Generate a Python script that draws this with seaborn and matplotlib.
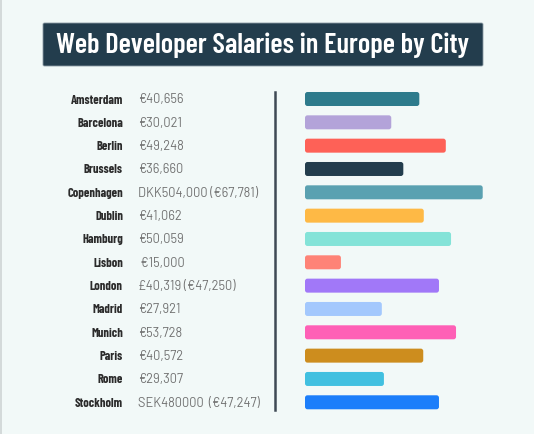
import matplotlib
matplotlib.use("Agg")
import matplotlib.pyplot as plt
from matplotlib.transforms import blended_transform_factory
from matplotlib.patches import FancyBboxPatch
from matplotlib.lines import Line2D
import seaborn as sns
import pandas as pd

cities = ["Amsterdam", "Barcelona", "Berlin", "Brussels", "Copenhagen", "Dublin",
          "Hamburg", "Lisbon", "London", "Madrid", "Munich", "Paris", "Rome", "Stockholm"]
salary_labels = ["€40,656", "€30,021", "€49,248", "€36,660", "DKK504,000 (€67,781)",
                 "€41,062", "€50,059", " €15,000", "£40,319 (€47,250)", "€27,921",
                 "€53,728", "€40,572", "€29,307", "SEK480000  (€47,247)"]
# bar lengths as drawn in the picture (euro scale, Copenhagen = 67,781)
bar_values = [43600, 32900, 53700, 37500, 67781, 45300, 55700, 13700,
              51100, 29300, 57600, 45100, 30100, 51100]
colors = ["#2e7b8c", "#b3a3d9", "#fe6157", "#233d4d", "#5aa1b1", "#feb945", "#84e3d8",
          "#fe8377", "#a178f8", "#a3c8fd", "#fe60b6", "#cd8d1e", "#41c0e0", "#1c7efa"]
title = "Web Developer Salaries in Europe by City"

BG = "#f2f9f8"
W, H = 534, 435
fig = plt.figure(figsize=(W / 100, H / 100), dpi=100, facecolor=BG)

narrow = ["Barlow Condensed", "Roboto Condensed", "PT Sans Narrow", "Archivo Narrow", "DejaVu Sans"]
din = ["Barlow", "DejaVu Sans"]

# axes for bars: left at 305 px, width 200 px; rows 23.33 px apart, first centered at y=100
row = 23.33
top_px = 100 - 0.5 * row
bot_px = top_px + 14 * row
ax = fig.add_axes([305 / W, 1 - bot_px / H, 200 / W, 14 * row / H])
ax.set_facecolor("none")

df = pd.DataFrame({"city": cities, "value": bar_values})
sns.barplot(data=df, x="value", y="city", hue="city", palette=colors, legend=False,
            orient="h", width=0.6, ax=ax, saturation=1)

xmax = 200 * 381.4
ax.set_xlim(0, xmax)
ax.set_ylim(13.5, -0.5)
ax.axis("off")

# rounded corners
x_per_px = xmax / 200
y_per_px = 1 / row
for p in list(ax.patches):
    x0, y0 = p.get_x(), p.get_y()
    w, h = p.get_width(), p.get_height()
    fc = p.get_facecolor()
    p.remove()
    fb = FancyBboxPatch((x0, y0), w, h,
                        boxstyle=f"round,pad=0,rounding_size={2.5 * x_per_px}",
                        mutation_aspect=y_per_px / x_per_px,
                        facecolor=fc, edgecolor="none")
    ax.add_patch(fb)

tr = blended_transform_factory(fig.transFigure, ax.transData)
for i, (c, s) in enumerate(zip(cities, salary_labels)):
    ax.text(123 / W, i, c, transform=tr, ha="right", va="center", fontsize=9,
            fontweight="bold", color="#2b2b2b", family=narrow, clip_on=False)
    ax.text(138 / W, i, s, transform=tr, ha="left", va="center", fontsize=9.2,
            color="#727272", family=din, clip_on=False)

# divider line
fig.add_artist(Line2D([275 / W, 275 / W], [1 - 93 / H, 1 - 411 / H],
                      transform=fig.transFigure, color="#3f4a55", linewidth=1.8))

# title box
fig.add_artist(FancyBboxPatch((43 / W, 1 - 67 / H), 440 / W, 43 / H,
                              boxstyle="round,pad=0,rounding_size=0.003",
                              transform=fig.transFigure, facecolor="#233d4d",
                              edgecolor="#8a9aa3", linewidth=0.6))
fig.text(263 / W, 1 - 45.5 / H, title, ha="center", va="center", fontsize=20.5,
         fontweight="semibold", color="white", family=narrow)

# left border
fig.add_artist(Line2D([0.5 / W, 0.5 / W], [0, 1], transform=fig.transFigure,
                      color="#cfd4d4", linewidth=1.2))

fig.savefig("out.png", dpi=100, facecolor=BG)
